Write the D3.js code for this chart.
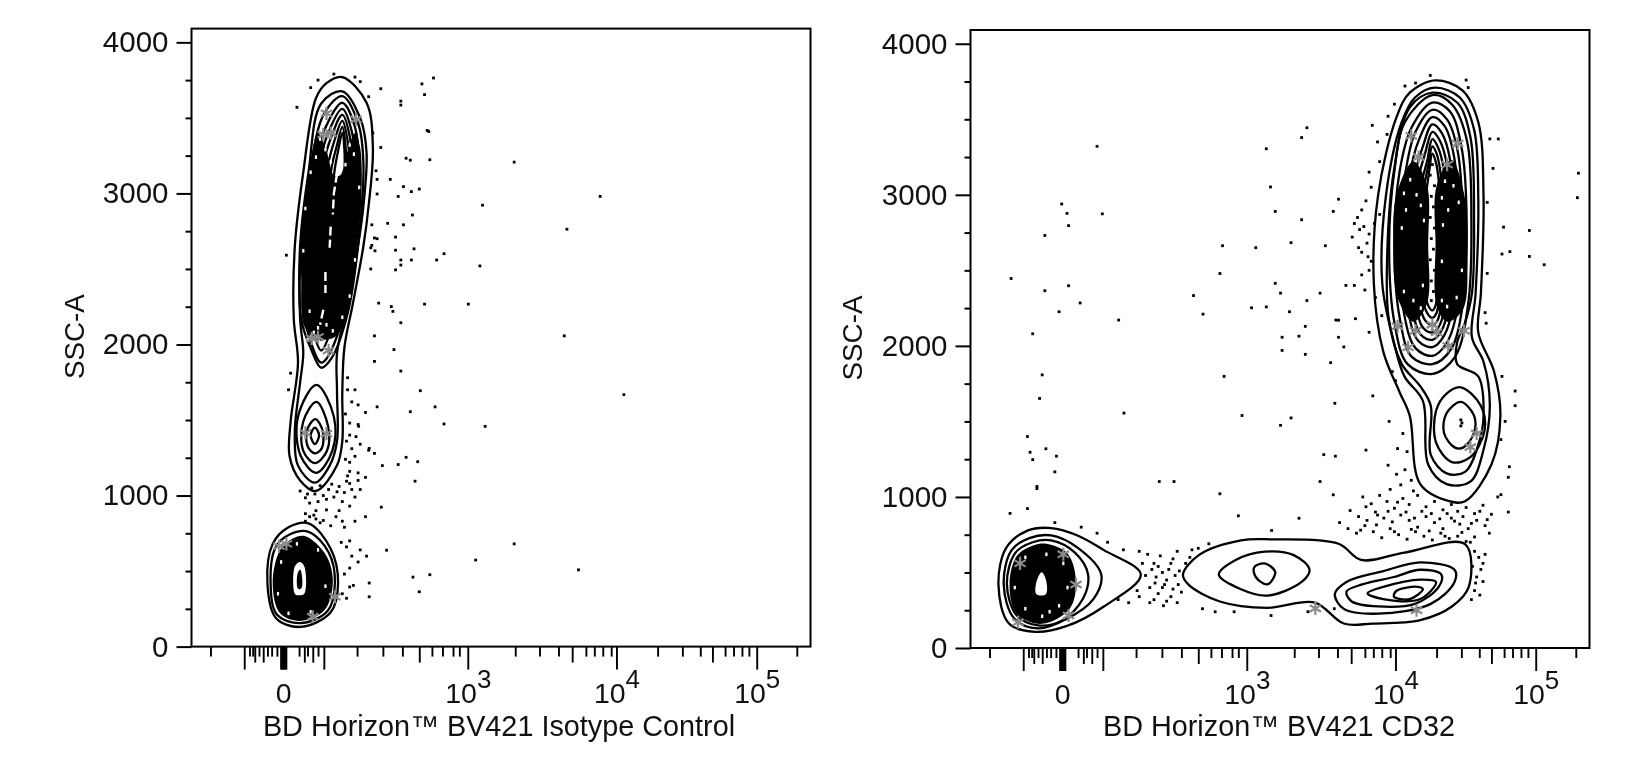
<!DOCTYPE html>
<html>
<head>
<meta charset="utf-8">
<script src="https://cdn.jsdelivr.net/npm/d3@7"></script>
<style>
  html, body { margin: 0; background: #fff; }
  svg { display: block; filter: blur(0.5px); }
  text { font-family: "Liberation Sans", Arial, sans-serif; fill: #111; }
</style>
</head>
<body>
<svg id="chart" width="1651" height="767"></svg>
<script>
// x values are display channels of the biexponential axis (0-587), y values are SSC-A

// axis ticks, shared by both plots
const sscMajorTicks = [0, 1000, 2000, 3000, 4000];
const sscMinorTicks = [250, 500, 750, 1250, 1500, 1750, 2250, 2500, 2750, 3250, 3500, 3750];
const xLabelTicks = [87, 262, 403, 536];
const xLabelText = [["0", ""], ["10", "3"], ["10", "4"], ["10", "5"]];
const xLongTicks = [50, 125.5, 262, 403, 536];
const xMediumTicks = [60, 68, 107, 115, 216, 361, 494];
const xShortTicks = [18, 55, 58, 64, 72, 76, 81, 102, 110, 120, 157, 181.5, 200, 228, 238, 248, 254, 307, 330, 348, 374, 382, 390, 398, 442, 465.5, 482.5, 506, 514, 522, 528.6, 574];
const xZeroBandTicks = [84.5, 85.5, 86.5, 87.5, 88.5, 89.5];

// left plot: isotype control
const isoTitle = "BD Horizon\u2122 BV421 Isotype Control";
const isoLines = [
  [[143,3770],[166,3600],[172,3300],[168,2920],[163,2650],[153,2270],[145,1980],[143,1680],[143,1360],[138,1200],[118,1030],[103,1100],[93,1260],[94,1490],[101,1880],[97,2170],[98,2650],[106,3140],[118,3630],[128,3730]],
  [[143,3676],[160,3498],[166,3271],[163,2915],[158,2656],[148,2267],[138,1943],[138,1684],[138,1360],[131,1198],[117,1085],[101,1198],[98,1425],[103,1749],[106,1943],[103,2170],[103,2656],[111,3142],[123,3595]],
  [[143,3644],[158,3466],[163,3207],[158,2656],[148,2203],[133,1911],[123,1846],[113,1976],[104,2170],[104,2656],[113,3174],[126,3531]],
  [[143,3600],[155,3440],[158,3200],[150,2900],[130,2900],[118,3200],[130,3480]],
  [[143,3560],[152,3410],[155,3180],[148,2900],[132,2900],[122,3180],[132,3440]],
  [[143,3520],[150,3380],[152,3160],[146,2900],[134,2900],[125,3160],[134,3400]],
  [[143,3480],[148,3350],[150,3140],[145,2900],[136,2900],[129,3140],[136,3360]],
  [[143,3440],[146,3320],[147,3120],[144,2900],[137,2900],[132,3120],[138,3320]],
  [[143,3400],[145,3290],[145,3100],[143,2900],[138,2900],[135,3100],[139,3280]],
  [[106,2300],[113,2020],[123,1880],[135,2000],[143,2300],[120,2500]],
  [[110,2300],[116,2070],[123,1960],[131,2070],[138,2300],[120,2500]],
  [[115,2250],[119,2100],[123,2030],[127,2100],[132,2250],[122,2400]],
  [[118.5,1733],[135,1522],[133.5,1296],[118.5,1150],[103.5,1263],[101,1522]],
  [[118.5,1620],[129.5,1458],[128.5,1296],[117,1215],[106,1296],[106,1490]],
  [[117.5,1506],[124.5,1425],[123.5,1312],[117,1279],[110,1328],[110,1441]],
  [[117,1450],[121,1400],[117,1340],[113,1400]],
  [[111,816],[132,648],[139,421],[132,227],[103,130],[80,190],[72,421],[77,680],[92,790]],
  [[111,760],[130,625],[136,421],[129,235],[103,155],[81,212],[75,421],[80,660],[94,745]]
];
const isoDense = [
  [[120,3400],[128,3280],[135,3120],[141,3120],[148,3280],[155,3400],[160,3300],[161,2950],[157,2650],[147,2200],[136,2050],[118,2040],[107,2120],[104,2450],[104,2650],[108,2950],[113,3220]],
  [[108,730],[128,600],[134,421],[126,240],[103,170],[84,220],[77,421],[84,640],[96,715]]
];
const isoGaps = [
  [[103,560],[107,530],[107,350],[101,340],[98,350],[98,530]]
];
const isoGapInk = [
  [[103,510],[104.5,480],[104.5,390],[102,380],[100.5,390],[100.5,480]]
];
const isoRidges = [
  [[138,3130],[135,3000],[134,2860]],
  [[132,2780],[131,2640]],
  [[127,2480],[127,2340]],
  [[125,2230],[122,2130]]
];
const isoSpecks = [[122,3360],[127,3290],[132,3210],[150,3320],[154,3260],[146,3190],[118,3240],[113,3140],[159,3040],[108,2900],[106,2620],[155,2560],[150,2320],[112,2220],[143,2180],[120,2110],[128,2130],[116,2080],[134,2090],[110,2030],[100,680],[120,640],[85,560],[127,400],[82,350],[92,220],[113,230]];
const isoStars = [[128,3530],[156,3490],[132,3400],[125,3390],[120,2050],[114,2040],[130,1960],[108,1415],[128,1410],[83,665],[90,680],[115,198],[136,330]];
const isoDots = [
  [229.5,3764],[218.5,3725],[221,3654],[198.5,3611],[198.5,3585],[179.5,3693],[179.5,3304],[223.5,3417],[225,3410],[203.5,3233],[207.5,3220],[226,3223],[306,3207],[387.5,2980],[276,2922],
  [188.5,3093],[201,3045],[208.5,3012],[216,3029],[196,2980],[176,3093],[176,2996],[209.5,2857],[171,2792],[186,2802],[201,2792],[356,2763],[193.5,2711],[173.5,2705],[171,2656],[211,2633],
  [193.5,2624],[239.5,2601],[232.5,2559],[208.5,2559],[198.5,2559],[198.5,2526],[193.5,2494],[273.5,2520],[90,2591],[177.5,2274],[189.5,2251],[191,2219],[221,2267],[262.5,2267],[198.5,2144],
  [173.5,2057],[353.5,2057],[192,1966],[173.5,1888],[198.5,1824],[217,1694],[410,1668],[231,1587],[207.5,1555],[176,1587],[239.5,1474],[278.5,1458],[158.5,1458],[168.5,1312],[173.5,1279],
  [203.5,1253],[214.5,1224],[196,1205],[181,1198],[212,1095],[180,923],[185,638],[306,680],[269.5,573],[367,508],[226,476],[210,460],[216,363],[168.5,421],[153.5,405],[168.5,330],[166,599],[152,599],
  [103,1030],[108,985],[112,950],[117,1010],[120,960],[125,1000],[130,1040],[135,990],[140,1060],[145,1020],[150,1080],[155,990],[160,1040],[165,1120],[150,930],[140,900],[128,905],[118,900],
  [112,860],[108,830],[118,845],[125,835],[132,800],[145,790],[155,830],[165,860],[150,700],[160,640],[158,560],[150,520],[145,480],[150,395],[143,350],[147,320],[142,690],[147,660],
  [155,1260],[160,1340],[168,1300],[150,1400],[158,1470],[165,1550],[150,1220],[158,1150],[148,1130],[172,3400],[175,3150],[176,2700],[170,2640],[174,2620],[170,2500],[168,3640],
  [113,3700],[120,3750],[135,3790],[155,3770],[160,3740],[100,3570],[94,1810],[92,1700],[148,1780],[155,1700],
  [110,1010],[114,1050],[122,1065],[128,975],[133,1075],[138,1025],[143,960],[147,1095],[152,1040],[158,1100],[150,1160],[146,1240],[152,1310],[147,1360],[156,1390],[150,1480],[146,1540],[152,1620],[148,1700],[158,1600],[108,880],[116,870],[122,820],[137,860],[143,830]
];

// right plot: CD32
const cdTitle = "BD Horizon\u2122 BV421 CD32";
const cdLines = [
  [[440.5,3757],[466.5,3692],[481.5,3482],[486.5,2996],[484,2348],[481.5,2089],[496.5,1830],[502.5,1538],[494,1215],[469,972],[454,972],[426.5,1085],[416.5,1538],[406.5,1700],[391.5,1960],[382.5,2413],[386.5,2996],[404,3514],[416.5,3676]],
  [[440.5,3709],[464,3644],[477.5,3433],[481.5,2996],[479,2348],[475.5,2057],[486.5,1895],[492.5,1603],[486.5,1312],[474,1101],[451.5,1085],[434,1215],[429,1636],[411.5,1798],[401.5,2024],[390.5,2413],[394,2996],[409,3482],[421.5,3644]],
  [[461.5,1879],[481.5,1798],[486.5,1538],[481.5,1344],[469,1166],[451.5,1156],[436.5,1279],[436.5,1603],[426.5,1733],[409,1879],[396.5,2186],[395.5,2672],[401.5,3158],[416.5,3578],[438,3676],[461.5,3611],[474,3385],[477.5,2834],[475.5,2348],[469,2154],[461.5,2024]],
  [[438,3660],[457,3595],[471,3352],[475,2834],[472,2283],[459.5,1927],[438,1814],[414.5,1879],[402,2154],[397,2672],[402,3158],[412,3482]],
  [[438,3611],[454.5,3553],[465.5,3320],[470.5,2834],[467,2283],[455.5,1976],[438,1879],[418.5,1927],[407,2186],[402,2672],[407,3158],[418.5,3449]],
  [[438,3563],[452,3498],[462,3288],[466.5,2834],[463.5,2316],[452,2024],[438,1934],[422,1985],[411,2219],[407,2672],[412,3126],[422,3417]],
  [[438,3514],[449.5,3456],[458.5,3255],[462.5,2834],[459.5,2348],[449.5,2073],[438,1992],[424.5,2034],[414.5,2251],[411,2672],[415.5,3093],[425.5,3369]],
  [[438,3466],[447,3408],[455,3223],[458,2834],[456,2381],[447,2105],[438,2040],[427,2073],[418,2284],[415,2672],[419,3061],[429,3320]],
  [[438,3417],[445,3360],[452,3190],[455,2834],[453,2413],[445,2138],[438,2089],[429,2121],[421,2316],[418,2672],[422,3028],[431,3272]],
  [[438,3369],[443,3320],[449,3158],[451,2834],[449,2445],[443,2170],[438,2138],[431,2170],[424,2348],[422,2672],[425,2996],[433,3223]],
  [[438,3320],[442,3272],[446,3126],[448,2834],[446,2478],[442,2219],[438,2186],[433,2219],[427,2381],[425,2672],[428,2964],[434,3190]],
  [[438,3272],[441,3223],[444,3093],[445,2834],[444,2510],[441,2267],[438,2235],[434,2267],[430,2413],[429,2672],[431,2931],[435,3158]],
  [[465,1726],[484,1603],[487.5,1441],[474,1263],[456.5,1231],[441.5,1360],[441.5,1571],[451.5,1684]],
  [[465,1629],[477.5,1538],[477.5,1425],[467.5,1328],[459,1328],[449,1425],[451.5,1555]],
  [[76.5,794],[101.5,745],[126.5,648],[161.5,486],[126.5,275],[91.5,146],[61.5,107],[36.5,162],[26.5,421],[34,664],[54,777]],
  [[76.5,745],[101.5,664],[124,486],[116.5,324],[91.5,194],[64,130],[41.5,195],[31.5,421],[39,648],[56.5,729]],
  [[76.5,712],[99,631],[111.5,486],[106.5,324],[86.5,180],[64,150],[44,215],[34.5,421],[42.5,630],[59,700]],
  [[201.5,486],[216.5,615],[256.5,713],[286.5,719],[349,690],[370.5,583],[411.5,632],[469,687],[472.5,405],[456.5,275],[426.5,185],[381.5,162],[354,162],[326.5,301],[281.5,266],[236.5,308],[206.5,421]],
  [[279,638],[306.5,615],[321.5,518],[314,437],[281.5,347],[256.5,389],[235.5,486],[251.5,583]],
  [[279,560],[289,502],[281.5,421],[270.5,470],[269,534]],
  [[426.5,567],[459,518],[459,437],[436.5,292],[386.5,227],[354,259],[345.5,356],[356.5,437],[391.5,509]],
  [[426.5,518],[446.5,486],[444,405],[421.5,292],[386.5,275],[361.5,308],[356.5,373],[371.5,421],[401.5,470]],
  [[426.5,453],[441.5,437],[426.5,324],[391.5,324],[376.5,363],[391.5,405]],
  [[424,405],[429,389],[416.5,324],[401.5,340],[404,379]]
];
const cdDense = [
  [[404,3000],[420,3220],[433,3060],[434,2672],[433,2284],[420,2160],[405,2320],[401,2672]],
  [[442,3060],[456,3230],[468,3010],[471,2640],[467,2240],[452,2160],[442,2270],[441,2672]],
  [[72,690],[92,625],[100,440],[94,260],[68,160],[44,225],[37,421],[44,610],[60,680]]
];
const cdGaps = [
  [[67.5,502],[71.5,453],[71.5,356],[62.5,356],[62.5,437]]
];
const cdGapInk = [];
const cdRidges = [];
const cdSpecks = [[411,3010],[417,3100],[423,3000],[427,2930],[413,2900],[409,2780],[430,2830],[429,2400],[420,2300],[411,2360],[427,2250],[450,3090],[458,3060],[463,2950],[447,2980],[453,2900],[448,2800],[447,2560],[461,2320],[452,2260],[447,2300],[466,2500],[52,600],[72,620],[88,560],[42,400],[92,400],[84,280],[52,260],[68,210],[75,240]];
const cdStars = [[418,3390],[462,3340],[452,3200],[425,3250],[405,2130],[422,2100],[442,2090],[468,2100],[415,1990],[453,2000],[438,2140],[480,1420],[474,1330],[88,620],[47,560],[93,215],[45,170],[100,420],[423,250],[327,262]];
const cdDots = [
  [38.5,2446],[120,3321],[86.5,2939],[91.5,2877],[93,2796],[70.5,2731],[125,2874],[93,2398],[70.5,2365],[104,2284],[84,2226],[140.5,2171],[59,2080],[68,1808],[65.5,1652],[145.5,1555],[54,1400],[56.5,1296],[59,1247],[71.5,1319],[81.5,1270],[80,1166],[63,1069],[63,1055],[37.5,891],[54,923],
  [280.5,3305],[284.5,3052],[289,2890],[314,2835],[319,3444],[314,3379],[349,2971],[344,2890],[239,2663],[270.5,2650],[304,2683],[336.5,2663],[236.5,2479],[289,2414],[211.5,2333],[220.5,2210],[266.5,2252],[280.5,2258],[294,2349],[302.5,2226],[319,2300],[331.5,2349],[317.5,2129],[311.5,2064],[295.5,2057],[295.5,1970],[317.5,1944],[240.5,1798],[341.5,1889],[346.5,2171],[349,2057],[354,1993],
  [576.5,3143],[575.5,2981],[530,2764],[530,2592],[544,2537],[511.5,2624],[504,2608],[505.5,2786],[492.5,3370],[500.5,3370],[495.5,3175],[516.5,1701],[516.5,1604],[504,1798],[257.5,1539],[304,1523],[294,1474],[345.5,1620],[381.5,1669],[179,1102],[193,1102],[236.5,1021],[254,875],[285.5,778],[311.5,859],[331.5,1102],[344,1014],
  // left of the upper population
  [381,3460],[386,3350],[378,3150],[371,2900],[364,2810],[369,2770],[376,2680],[371,2620],[378,2500],[356,2400],[364,2400],[374,2370],[349,2170],[365,2180],[378,2090],[397,1500],[405,1320],[375,1310],[396,1210],[335,1280],[346,1270],[398,1050],
  [412,3720],[422,3740],[436,3790],[470,3760],[472,3710],[402,3600],[396,3520],[395,3400],[388,3220],[380,3050],[375,2960],[388,2870],[378,2740],[380,2560],[490,2950],[490,2480],[488,2220],[489,2150],[507,1500],[503,1380],[511,1200],[510,1130],[500,1000],
  [367,2850],[373,2790],[362,2720],[368,2650],[377,2590],[383,2810],[371,2470],[384,2320],[390,2200],[400,1830],[403,1770],[410,1420],[414,1300],[404,1150],[412,1180],[418,1110],[420,1040],[408,1080],
  // below the upper population
  [372,1000],[380,955],[388,1010],[395,970],[402,925],[410,990],[416,950],[424,1010],[432,935],[440,970],[448,915],[456,950],[462,905],[470,930],[478,890],[486,945],[494,885],[503,1015],[510,900],
  [360,910],[368,870],[376,845],[384,900],[392,860],[400,835],[408,880],[416,845],[424,800],[432,870],[440,830],[448,790],[456,860],[464,820],[472,790],[480,845],[488,810],[492,760],
  [350,830],[358,790],[366,760],[374,810],[382,770],[390,730],[398,790],[406,750],[414,720],[422,770],[430,740],[438,715],[446,760],[454,725],[462,740],[470,705],[478,735],
  [375,935],[386,880],[396,905],[405,965],[413,900],[421,860],[428,905],[437,890],[445,855],[452,890],[459,840],[467,870],[475,825],[483,905],[490,850],[370,780],[385,815],[402,770],[418,785],[435,775],[450,740],[466,765],[474,700],
  [478,640],[482,600],[476,540],[484,520],[480,470],[486,440],[478,380],[483,350],[475,320],[488,620],[486,560],[479,430],
  // between the lower left and middle populations
  [163,560],[168,620],[172,520],[176,470],[170,400],[178,360],[184,420],[188,520],[192,590],[196,640],[180,610],[186,310],[190,340],[197,420],[200,370],[204,560],[208,600],[174,320],[160,340],[150,300],[140,320],[130,700],[120,760],[105,800],[80,830],[160,640],[145,650],[220,260],[232,240],[250,240],[285,215],[320,240],[345,260],
  [166,480],[174,560],[182,500],[186,450],[190,560],[178,540],[182,400],[175,430],[194,480],[198,510],[170,300],[183,280],[192,390],[196,300],[158,380],[210,650],[216,660],[226,690],
  [465,1510],[466,1490],[465,1470],
  // beaded ridge between the two dense columns
  [438,3200],[436,3130],[440,3060],[437,2990],[439,2920],[436,2850],[440,2780],[437,2710],[439,2640],[436,2570],[440,2500],[437,2430],[439,2360],[437,2300]
];

const panels = [
  { title: isoTitle, lines: isoLines, dense: isoDense, gaps: isoGaps, gapInk: isoGapInk, ridges: isoRidges, specks: isoSpecks, stars: isoStars, dots: isoDots, left: 191.5, top: 28.6, titleX: 499, yTitleX: 84 },
  { title: cdTitle, lines: cdLines, dense: cdDense, gaps: cdGaps, gapInk: cdGapInk, ridges: cdRidges, specks: cdSpecks, stars: cdStars, dots: cdDots, left: 970.5, top: 30, titleX: 1279, yTitleX: 862 }
];

const plotW = 619, plotH = 618;
const svg = d3.select("#chart");

function renderPlot(p) {
    const x = d3.scaleLinear().domain([0, 587]).range([0, plotW]);
    const y = d3.scaleLinear().domain([0, 4091]).range([plotH, 0]);
    const g = svg.append("g").attr("transform", `translate(${p.left},${p.top})`);

    const contour = d3.line().x(d => x(d[0])).y(d => y(d[1])).curve(d3.curveCatmullRomClosed.alpha(0.5));
    const open = d3.line().x(d => x(d[0])).y(d => y(d[1]));

    g.selectAll(".contour").data(p.lines).enter().append("path")
        .attr("class", "contour").attr("d", contour)
        .attr("fill", "none").attr("stroke", "#000").attr("stroke-width", 2.3);

    g.selectAll(".dense").data(p.dense).enter().append("path")
        .attr("class", "dense").attr("d", contour).attr("fill", "#000");

    g.selectAll(".speck").data(p.specks).enter().append("rect")
        .attr("class", "speck")
        .attr("x", d => x(d[0]) - 1.1).attr("y", d => y(d[1]) - 1.8)
        .attr("width", 2.2).attr("height", 3.6).attr("fill", "#fff");

    g.selectAll(".gap").data(p.gaps).enter().append("path")
        .attr("class", "gap").attr("d", contour).attr("fill", "#fff");
    g.selectAll(".gap-ink").data(p.gapInk).enter().append("path")
        .attr("class", "gap-ink").attr("d", contour).attr("fill", "#000");

    g.selectAll(".ridge").data(p.ridges).enter().append("path")
        .attr("class", "ridge").attr("d", open)
        .attr("fill", "none").attr("stroke", "#fff").attr("stroke-width", 2.4).attr("stroke-dasharray", "9 4");

    const star = d3.symbol().type(d3.symbolAsterisk).size(120);
    g.selectAll(".star").data(p.stars).enter().append("path")
        .attr("class", "star").attr("d", star)
        .attr("transform", d => `translate(${x(d[0])},${y(d[1])})`)
        .attr("fill", "none").attr("stroke", "#8a8a8a").attr("stroke-width", 2.2);

    g.selectAll(".dot").data(p.dots).enter().append("rect")
        .attr("class", "dot")
        .attr("x", d => x(d[0]) - 1.4).attr("y", d => y(d[1]) - 1.4)
        .attr("width", 2.8).attr("height", 2.8).attr("fill", "#000");

    // frame
    g.append("rect").attr("width", plotW).attr("height", plotH)
        .attr("fill", "none").attr("stroke", "#000").attr("stroke-width", 2);

    // y axis
    const yMinor = d3.axisLeft(y).tickValues(sscMinorTicks).tickSize(6).tickFormat("");
    const yMajor = d3.axisLeft(y).tickValues(sscMajorTicks).tickSize(15).tickPadding(8).tickFormat(d3.format("d"));
    [yMinor, yMajor].forEach(a => {
        const ag = g.append("g").attr("class", "y-axis").call(a);
        ag.select(".domain").remove();
        ag.selectAll("line").attr("stroke", "#000").attr("stroke-width", 2);
    });
    g.selectAll(".y-axis text").attr("font-size", 29.5).attr("fill", "#111");

    // x axis, three tick lengths plus the solid band at zero
    const xSets = [[xShortTicks, 10], [xMediumTicks, 16], [xLongTicks, 23], [xZeroBandTicks, 23]];
    xSets.forEach(([vals, size]) => {
        const ag = g.append("g").attr("class", "x-axis")
            .attr("transform", `translate(0,${plotH})`)
            .call(d3.axisBottom(x).tickValues(vals).tickSize(size).tickFormat(""));
        ag.select(".domain").remove();
        ag.selectAll("line").attr("stroke", "#000").attr("stroke-width", 1.9);
    });

    const labels = g.append("g").attr("class", "x-labels")
        .attr("transform", `translate(0,${plotH})`)
        .call(d3.axisBottom(x).tickValues(xLabelTicks).tickSize(0).tickFormat(""));
    labels.select(".domain").remove();
    labels.selectAll(".tick text").each(function(d, i) {
        const t = d3.select(this).attr("y", 56).attr("dy", 0).attr("font-size", 28.5).attr("fill", "#111");
        t.append("tspan").text(xLabelText[i][0]);
        if (xLabelText[i][1]) {
            t.append("tspan").attr("dy", -15).attr("font-size", 26).text(xLabelText[i][1]);
        }
    });

    // titles
    svg.append("text").attr("x", p.titleX).attr("y", 736).attr("text-anchor", "middle")
        .attr("font-size", 28.8).text(p.title);
    svg.append("text").attr("text-anchor", "middle").attr("font-size", 27.8)
        .attr("transform", `translate(${p.yTitleX},${p.top + 308}) rotate(-90)`).text("SSC-A");
}

panels.forEach(renderPlot);
</script>
</body>
</html>
